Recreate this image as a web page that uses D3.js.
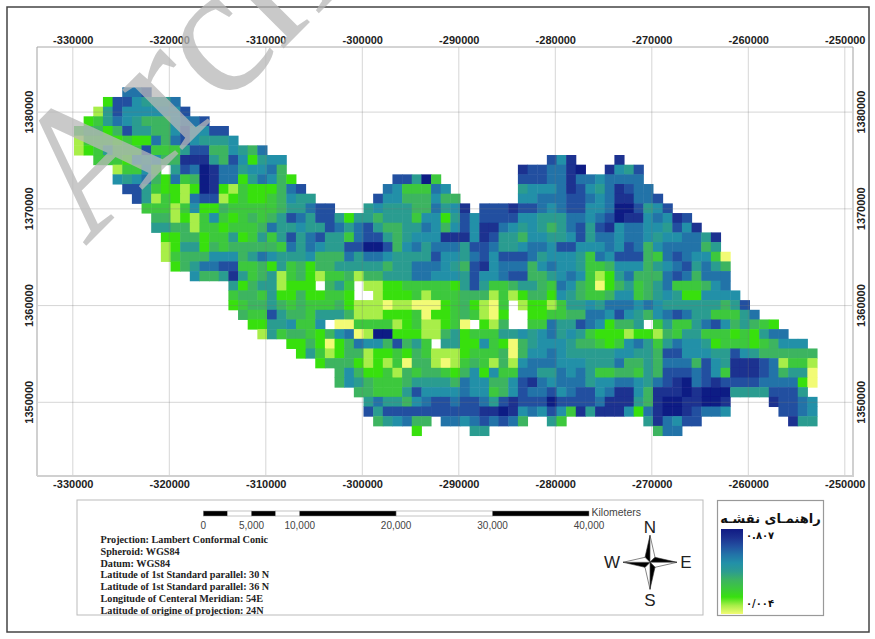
<!DOCTYPE html>
<html lang='en'>
<head>
  <title>Map</title>
  <script src='https://cdn.jsdelivr.net/npm/d3@7/dist/d3.min.js'></script>
  <style>
    html, body { margin: 0; padding: 0; background: #fff; }
    svg { display: block; }
  </style>
</head>
<body>
  <script>
    // raster, one string per row (north to south), one char per 1 km cell
    // char = class 0..a from light yellow to navy, "." = no data
    const gridRows = [
      ".....778",
      "...28865557",
      "..1586666668",
      ".2357654446778",
      "3442485544686688",
      "13332322747865556",
      "12353338333588446547",
      "..33326564499954862566" + "...........................869....9",
      "....13363.587a97756674" + "........................988779a..9658",
      "....656742734a977257642" + "..........885a3........8887797767777",
      ".....88532212a9213222478" + "........7633376.......56667986579877",
      "......8513217881232234655" + "......866444644......667778876799778",
      ".......33313622433333455788" + "...56555447569.88898876788667aa8568",
      "........4412136323434587588" + "5255455536" + "6258688886" + "655577678a" + "9967698",
      "........5544133233" + "3475565587" + "5785445576" + "4686997656" + "5457858967" + "7665869",
      ".........2244233523" + "5358578553" + "7885456669" + "9969855466" + "5568577677" + "65667759",
      ".........1255243444" + "4437576558" + "8aa8467577" + "7588755677" + "6886667687" + "46777745",
      ".........1344466645" + "7655564447" + "5776555586" + "6578688875" + "6665376888" + "437876630",
      "..........2457788334" + "2534244555" + "5545577765" + "4896777467" + "6653346664" + "56785754",
      "............6445953451" + "3421334144" + "5557766658" + "6678844567" + "6312574447" + "874777",
      "................524551222." + "453.112233" + "3332585334" + "5543764302" + "453457333467",
      "................3443522422" + "332..12223" + "1333444131" + "2442654334" + "6634565226666",
      "................2344543433" + "3421110110" + "002342103." + "1221355657" + "77676555555458",
      ".................4338544355" + "5411122230" + "22343102.." + "2233447768" + "65467875533357",
      "..................22556336.0" + "0333312311" + "230.214..3" + "3755876244" + "5.3533578645432",
      "...................1534432467" + "01aa222114" + "5233355656" + "7565322212" + "214355333232577",
      "......................2242024766" + "48453.5522" + "6320456665" + "4432367535" + "76652333234666",
      ".......................2531244122" + "3243111233" + "3404667655" + "5556655488" + "66655865444444",
      ".........................2444212130" + "4410134314" + "1677766655" + "5744547774" + "865999871331",
      "...........................4642231434" + "4324626337" + "7557675334" + "4354888786" + "3999874550",
      "...........................4654333455" + "5547664468" + "9767775667" + "765789a789" + "8888777720",
      ".............................4433358666" + "6766346877" + "8678867996" + "4999a9aaa5" + "5558885",
      "..............................5755467887" + "887589888a" + "8888799954" + "9aa99aa9" + "...." + "98876",
      "..............................8588888888" + "8899a96768" + "6395999627" + "9aa98776" + "....." + "8876",
      "...............................456744.776" + "787874" + ".." + "53" + "........" + "597688" + "........." + "955",
      "...................................2.....55" + "................." + "477"
    ];
    const xTicks = [-330000, -320000, -310000, -300000, -290000, -280000, -270000, -260000, -250000];
    const yTicks = [1380000, 1370000, 1360000, 1350000];
    const rampColors = ["#f2fb74", "#a8ee48", "#38e010", "#3cc83c", "#3cb460", "#2c9c90", "#2290a8", "#2273a8", "#2250a0", "#1c3090", "#101a84"];
    const minValue = 0.004, maxValue = 0.807;
    const scaleStops = [0, 2500, 5000, 7500, 10000, 20000, 30000, 40000];
    const scaleLabels = [0, 5000, 10000, 20000, 30000, 40000];
    const noteLines = [
      "Projection: Lambert Conformal Conic",
      "Spheroid: WGS84",
      "Datum: WGS84",
      "Latitude of 1st Standard parallel: 30 N",
      "Latitude of 1st Standard parallel: 36 N",
      "Longitude of Centeral Meridian: 54E",
      "Latitude of origine of projection: 24N"
    ];

    const width = 875, height = 639;
    const sans = "'Liberation Sans', Arial, sans-serif";
    const serif = "'Liberation Serif', 'Times New Roman', serif";
    const cellSize = 1000;
    const firstEasting = -329876, firstNorthing = 1382564;

    const svg = d3.select("body").append("svg")
      .attr("width", width)
      .attr("height", height);

    const defs = svg.append("defs");
    defs.append("filter").attr("id", "soft")
      .attr("x", "-2%").attr("y", "-2%").attr("width", "104%").attr("height", "104%")
      .append("feGaussianBlur").attr("stdDeviation", 0.55);

    svg.append("rect")
      .attr("x", 7).attr("y", 7).attr("width", 862).attr("height", 625)
      .attr("fill", "none").attr("stroke", "#444").attr("stroke-width", 1.5);

    // map scales
    const x = d3.scaleLinear().domain([-330000, -250000]).range([72.8, 844.8]);
    const y = d3.scaleLinear().domain([1350000, 1380000]).range([402.3, 112.1]);
    const frame = { left: 37, right: 853, top: 47, bottom: 476 };

    // colour scale, same stops as the legend ramp
    const value = d3.scaleLinear().domain([0, 10]).range([minValue, maxValue]);
    const color = d3.scaleLinear()
      .domain(rampColors.map((c, i) => value(i)))
      .range(rampColors);

    // flatten the rows into cells
    const cells = [];
    gridRows.forEach((row, r) => {
      row.split("").forEach((ch, c) => {
        if (ch === ".") return;
        cells.push({
          e: firstEasting + c * cellSize,
          n: firstNorthing - r * cellSize,
          v: value(parseInt(ch, 16))
        });
      });
    });

    const map = svg.append("g").attr("filter", "url(#soft)");
    map.selectAll("rect.cell").data(cells).join("rect")
      .attr("class", "cell")
      .attr("x", d => x(d.e))
      .attr("y", d => y(d.n))
      .attr("width", x(cellSize) - x(0) + 0.5)
      .attr("height", y(0) - y(cellSize) + 0.5)
      .attr("fill", d => color(d.v));

    // grid lines and tick labels on all four sides
    const grid = svg.append("g");
    grid.selectAll("line.gx").data(xTicks).join("line")
      .attr("class", "gx")
      .attr("x1", d => x(d)).attr("x2", d => x(d))
      .attr("y1", frame.top).attr("y2", frame.bottom)
      .attr("stroke", "#777").attr("stroke-opacity", 0.3);
    grid.selectAll("line.gy").data(yTicks).join("line")
      .attr("class", "gy")
      .attr("x1", frame.left).attr("x2", frame.right)
      .attr("y1", d => y(d)).attr("y2", d => y(d))
      .attr("stroke", "#777").attr("stroke-opacity", 0.3);

    svg.append("path")
      .attr("d", `M${frame.left},${frame.bottom}H${frame.right}V${frame.top}`)
      .attr("fill", "none").attr("stroke", "#d0d0d0").attr("stroke-width", 2);
    svg.append("line")
      .attr("x1", frame.left).attr("x2", frame.left)
      .attr("y1", frame.top).attr("y2", frame.bottom)
      .attr("stroke", "#d0d0d0").attr("stroke-width", 2);
    svg.append("line")
      .attr("x1", frame.left).attr("x2", frame.right)
      .attr("y1", frame.top).attr("y2", frame.top)
      .attr("stroke", "#a8a8a8").attr("stroke-width", 1);

    const styleAxis = g => {
      g.select(".domain").remove();
      g.selectAll("line").remove();
      g.selectAll("text")
        .attr("font-family", sans).attr("font-size", 11)
        .attr("font-weight", "bold").attr("fill", "#222");
    };
    const fmt = d => String(d);
    svg.append("g").attr("transform", `translate(0,${frame.top})`)
      .call(d3.axisTop(x).tickValues(xTicks).tickFormat(fmt).tickSize(0).tickPadding(3))
      .call(styleAxis);
    svg.append("g").attr("transform", `translate(0,${frame.bottom})`)
      .call(d3.axisBottom(x).tickValues(xTicks).tickFormat(fmt).tickSize(0).tickPadding(4))
      .call(styleAxis);

    const yLabels = (px) => {
      svg.append("g").selectAll("text").data(yTicks).join("text")
        .attr("transform", d => `translate(${px},${y(d)}) rotate(-90)`)
        .attr("text-anchor", "middle")
        .attr("dominant-baseline", "central")
        .attr("font-family", sans).attr("font-size", 11)
        .attr("font-weight", "bold").attr("fill", "#222")
        .text(fmt);
    };
    yLabels(29);
    yLabels(861);

    // bottom panel with scale bar and notes
    svg.append("rect")
      .attr("x", 77).attr("y", 500).attr("width", 626).attr("height", 115)
      .attr("fill", "#fff").attr("stroke", "#bbb").attr("stroke-width", 1);

    const km = d3.scaleLinear().domain([0, 40000]).range([203.3, 589]);
    const bar = d3.pairs(scaleStops);
    svg.append("g").selectAll("rect").data(bar).join("rect")
      .attr("x", d => km(d[0]))
      .attr("y", 511)
      .attr("width", d => km(d[1]) - km(d[0]))
      .attr("height", 5)
      .attr("fill", (d, i) => i % 2 === 0 ? "#000" : "#fff")
      .attr("stroke", "#888").attr("stroke-width", 0.5);
    svg.append("g").selectAll("text").data(scaleLabels).join("text")
      .attr("x", d => km(d)).attr("y", 528.5)
      .attr("text-anchor", "middle")
      .attr("font-family", sans).attr("font-size", 10).attr("fill", "#444")
      .text(d3.format(","));
    svg.append("text")
      .attr("x", 591.5).attr("y", 516)
      .attr("font-family", sans).attr("font-size", 10.5).attr("fill", "#444")
      .text("Kilometers");

    svg.append("g").selectAll("text").data(noteLines).join("text")
      .attr("x", 100.5)
      .attr("y", (d, i) => 543 + i * 11.75)
      .attr("font-family", serif).attr("font-size", 10.2)
      .attr("font-weight", "bold").attr("fill", "#222")
      .text(d => d);

    // north arrow
    const compass = svg.append("g").attr("transform", "translate(650,562.3)");
    const arm = 27, waist = 5;
    [0, 90, 180, 270].forEach(a => {
      const g = compass.append("g").attr("transform", `rotate(${a})`);
      g.append("path")
        .attr("d", `M0,${-arm}L${-waist},${-waist}L0,0Z`)
        .attr("fill", "#000").attr("stroke", "#333").attr("stroke-width", 0.6);
      g.append("path")
        .attr("d", `M0,${-arm}L${waist},${-waist}L0,0Z`)
        .attr("fill", "#fff").attr("stroke", "#333").attr("stroke-width", 0.6);
    });
    const compassLabels = [["N", 650, 533], ["S", 650, 606], ["W", 612, 568], ["E", 686, 568]];
    svg.append("g").selectAll("text").data(compassLabels).join("text")
      .attr("x", d => d[1]).attr("y", d => d[2])
      .attr("text-anchor", "middle")
      .attr("font-family", sans).attr("font-size", 17).attr("fill", "#222")
      .text(d => d[0]);

    // legend
    svg.append("rect")
      .attr("x", 717.5).attr("y", 500.5).attr("width", 106).attr("height", 115)
      .attr("fill", "#fff").attr("stroke", "#999").attr("stroke-width", 1.2);
    const grad = defs.append("linearGradient").attr("id", "ramp")
      .attr("x1", 0).attr("x2", 0).attr("y1", 1).attr("y2", 0);
    grad.selectAll("stop").data(rampColors).join("stop")
      .attr("offset", (d, i) => i / (rampColors.length - 1))
      .attr("stop-color", d => d);
    svg.append("rect")
      .attr("x", 721).attr("y", 529).attr("width", 22).attr("height", 85)
      .attr("fill", "url(#ramp)");
    svg.append("text")
      .attr("x", 770.5).attr("y", 523)
      .attr("text-anchor", "middle")
      .attr("direction", "rtl")
      .attr("font-family", "'DejaVu Sans', sans-serif").attr("font-size", 13)
      .attr("font-weight", "bold").attr("fill", "#111")
      .text("راهنمـای نقشـه");
    svg.append("text")
      .attr("x", 746).attr("y", 539)
      .attr("font-family", "'DejaVu Sans', sans-serif").attr("font-size", 10)
      .attr("font-weight", "bold").attr("fill", "#111")
      .text("۰.۸۰۷");
    svg.append("text")
      .attr("x", 746).attr("y", 607)
      .attr("font-family", "'DejaVu Sans', sans-serif").attr("font-size", 10)
      .attr("font-weight", "bold").attr("fill", "#111")
      .text("۰/۰۰۴");

    // watermark
    svg.append("text")
      .attr("transform", "translate(85,247) rotate(-45)")
      .attr("font-family", serif).attr("font-size", 185)
      .attr("fill", "#b8b8b8").attr("opacity", 0.75)
      .text("Archive of SID");
  </script>
</body>
</html>
